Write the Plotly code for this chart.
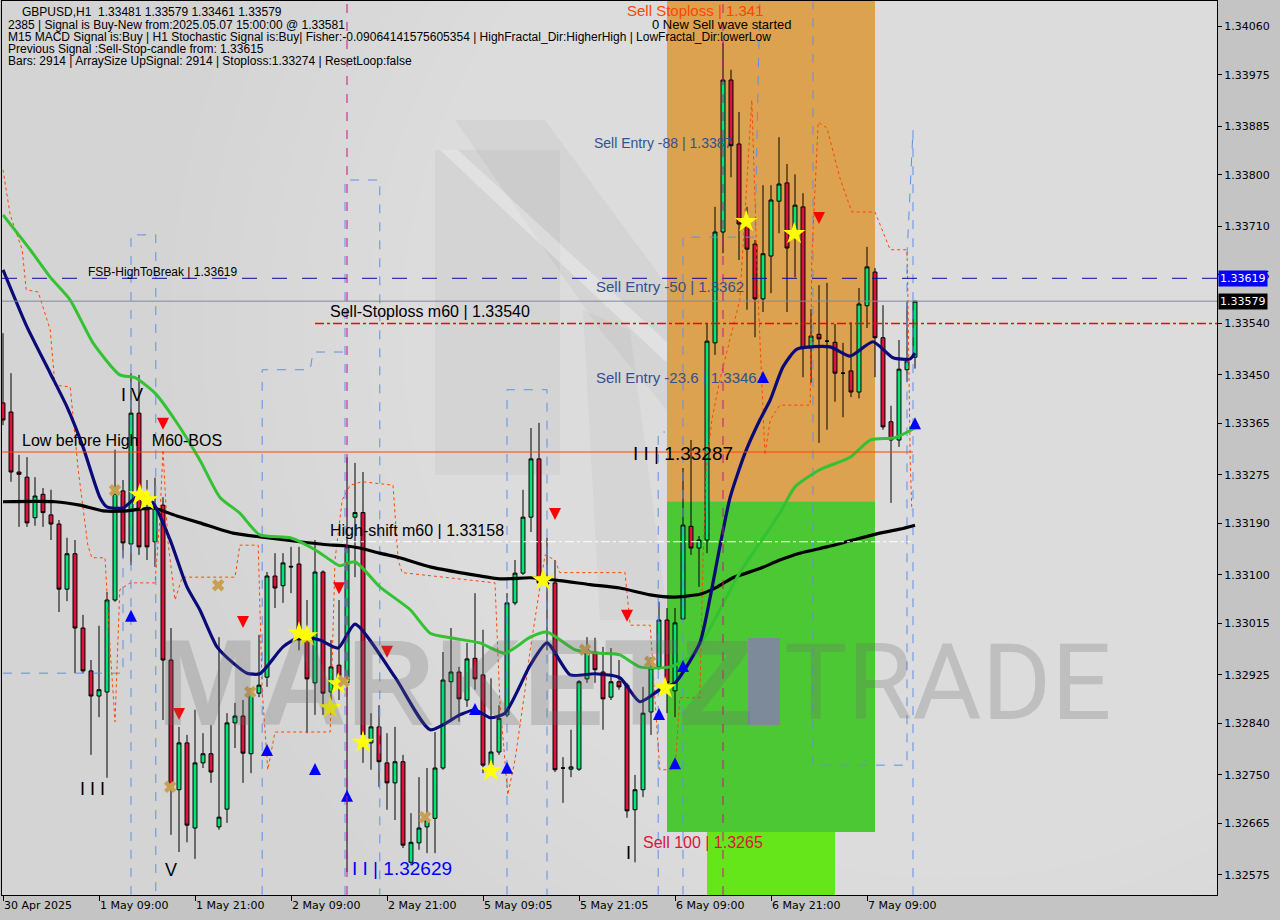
import plotly.graph_objects as go

# ---------------- data ----------------
bars = list(range(115))
opens = [1.33401,1.33385,1.33280,1.33271,1.33200,1.33241,1.33205,1.33189,1.33075,1.33137,
1.33007,1.32932,1.32888,1.32895,1.33056,1.33247,1.33154,1.33383,1.33214,1.33158,
1.33222,1.32951,1.32724,1.32806,1.32657,1.32771,1.32787,1.32659,1.32690,1.32841,
1.32853,1.32787,1.32893,1.32921,1.33098,1.33081,1.33115,1.33119,1.32986,1.32911,
1.33105,1.32895,1.32942,1.32911,1.33201,1.33209,1.32806,1.32834,1.32771,1.32736,
1.32773,1.32597,1.32631,1.32659,1.32674,1.32762,1.32913,1.32930,1.32881,1.32954,
1.32925,1.32767,1.32790,1.32855,1.33051,1.33103,1.33201,1.33303,1.33086,1.33086,
1.32762,1.32760,1.32760,1.32918,1.32965,1.32930,1.32886,1.32913,1.32907,1.32689,
1.32724,1.32860,1.32939,1.33021,1.32897,1.33023,1.33185,1.33147,1.33161,1.33506,
1.33700,1.33966,1.33854,1.33714,1.33679,1.33583,1.33658,1.33754,1.33786,1.33695,
1.33744,1.33497,1.33521,1.33509,1.33507,1.33453,1.33457,1.33420,1.33571,1.33630,
1.33515,1.33368,1.33336,1.33459,1.33481]
highs = [1.33523,1.33453,1.33310,1.33306,1.33271,1.33252,1.33249,1.33196,1.33165,1.33161,
1.33030,1.32951,1.33011,1.33070,1.33319,1.33266,1.33453,1.33450,1.33266,1.33270,
1.33236,1.33007,1.32834,1.32820,1.32864,1.32823,1.32837,1.32991,1.32858,1.32876,
1.32881,1.32902,1.32995,1.33105,1.33138,1.33138,1.33149,1.33149,1.33056,1.33161,
1.33108,1.32986,1.33056,1.33306,1.33296,1.33280,1.32858,1.32872,1.32823,1.32834,
1.32785,1.32683,1.32746,1.32762,1.32825,1.32965,1.33007,1.32939,1.32981,1.33068,
1.33004,1.32919,1.32872,1.33068,1.33126,1.33249,1.33357,1.33366,1.33165,1.33126,
1.32781,1.32829,1.32916,1.32991,1.32990,1.32974,1.32972,1.32951,1.32911,1.32750,
1.32904,1.32956,1.33053,1.33042,1.33042,1.33287,1.33336,1.33168,1.33541,1.33744,
1.34031,1.33984,1.33910,1.33744,1.33686,1.33782,1.33782,1.33866,1.33819,1.33801,
1.33768,1.33565,1.33607,1.33611,1.33539,1.33506,1.33542,1.33602,1.33674,1.33637,
1.33572,1.33396,1.33511,1.33578,1.33579]
lows = [1.33362,1.33263,1.33184,1.33184,1.33186,1.33184,1.33161,1.33035,1.33054,1.32928,
1.32928,1.32785,1.32851,1.32745,1.33053,1.33130,1.33117,1.33135,1.33126,1.33114,
1.32846,1.32645,1.32615,1.32632,1.32603,1.32762,1.32736,1.32654,1.32666,1.32797,
1.32736,1.32753,1.32886,1.32904,1.33042,1.33051,1.33068,1.32968,1.32823,1.32855,
1.32855,1.32881,1.32881,1.32580,1.33096,1.32771,1.32759,1.32729,1.32689,1.32671,
1.32622,1.32592,1.32619,1.32613,1.32613,1.32759,1.32843,1.32843,1.32869,1.32899,
1.32753,1.32764,1.32785,1.32851,1.33047,1.33100,1.33175,1.33082,1.32968,1.32755,
1.32701,1.32746,1.32757,1.32911,1.32911,1.32829,1.32881,1.32899,1.32675,1.32597,
1.32711,1.32820,1.32934,1.32858,1.32851,1.33021,1.33135,1.33079,1.33138,1.33485,
1.33663,1.33796,1.33651,1.33564,1.33516,1.33560,1.33593,1.33698,1.33560,1.33621,
1.33446,1.33436,1.33331,1.33354,1.33403,1.33376,1.33411,1.33409,1.33532,1.33446,
1.33354,1.33226,1.33324,1.33438,1.33461]
closes = [1.33371,1.33280,1.33276,1.33191,1.33238,1.33209,1.33189,1.33075,1.33137,1.33007,
1.32932,1.32888,1.32899,1.33056,1.33243,1.33156,1.33383,1.33149,1.33149,1.33217,
1.32951,1.32729,1.32806,1.32662,1.32771,1.32787,1.32755,1.32676,1.32841,1.32853,
1.32788,1.32893,1.32907,1.33098,1.33077,1.33121,1.33114,1.32986,1.32918,1.33105,
1.32893,1.32939,1.32904,1.33149,1.33209,1.32820,1.32834,1.32773,1.32736,1.32773,
1.32627,1.32632,1.32657,1.32671,1.32762,1.32916,1.32930,1.32883,1.32953,1.32918,
1.32767,1.32790,1.32849,1.33051,1.33103,1.33201,1.33303,1.33086,1.33084,1.32759,
1.32762,1.32764,1.32913,1.32969,1.32934,1.32883,1.32913,1.32904,1.32687,1.32724,
1.32858,1.32937,1.33021,1.32911,1.33016,1.33187,1.33147,1.33161,1.33509,1.33700,
1.33966,1.33851,1.33714,1.33670,1.33583,1.33662,1.33756,1.33784,1.33672,1.33747,
1.33497,1.33518,1.33513,1.33509,1.33453,1.33453,1.33420,1.33574,1.33639,1.33515,
1.33359,1.33336,1.33460,1.33474,1.33579]

x_tick_bars = [0, 12, 24, 36, 48, 60, 72, 84, 96, 108]
x_tick_labels = ["30 Apr 2025", "1 May 09:00", "1 May 21:00", "2 May 09:00", "2 May 21:00",
                 "5 May 09:05", "5 May 21:05", "6 May 09:00", "6 May 21:00", "7 May 09:00"]
y_tick_values = [1.34060, 1.33975, 1.33885, 1.33800, 1.33710, 1.33625, 1.33540, 1.33450, 1.33365,
                 1.33275, 1.33190, 1.33100, 1.33015, 1.32925, 1.32840, 1.32750, 1.32665, 1.32575]

ma_slow_bars = [0,6.5,9.6,12.5,15.5,18.75,21.75,24.6,28.75,33,37.1,41.25,42.75,44.6,47.1,49.6,53.4,57.1,
                62.1,65.9,69.6,73.4,77.1,80.9,83.75,87.1,88.75,91.25,94.6,97.1,99.6,103,106.25,109.6,112.1,114]
ma_slow_vals = [1.33228,1.33228,1.33222,1.33212,1.33212,1.33217,1.33203,1.33191,1.33173,1.33165,1.33158,
                1.33152,1.33151,1.33147,1.33138,1.33130,1.33114,1.33104,1.33093,1.33095,1.33090,1.33083,
                1.33077,1.33065,1.33061,1.33066,1.33075,1.33095,1.33111,1.33126,1.33138,1.33149,1.33161,
                1.33173,1.33180,1.33187]

ma_fast_bars = [0,3,5.9,8,10,12.1,13,15,17.1,18.75,20.9,23,24.6,26.75,28.75,30.5,32.1,35,37.1,39.6,41.9,44,
                49,53.4,57.1,59,60.9,62.75,65.9,68,70.9,74,77.1,79.6,82.1,84,87.1,88.4,89.6,90.9,92.75,94.6,
                95.9,97.5,99.25,103.4,105.9,108.75,111.25,113.4,114]
ma_fast_vals = [1.33634,1.33534,1.33453,1.33394,1.33324,1.33236,1.33219,1.33217,1.33240,1.33226,1.33161,
                1.33079,1.33039,1.32974,1.32946,1.32928,1.32927,1.32974,1.32991,1.32986,1.32972,1.33014,
                1.32921,1.32829,1.32855,1.32864,1.32850,1.32858,1.32942,1.32981,1.32925,1.32927,1.32920,
                1.32878,1.32899,1.32911,1.32981,1.33061,1.33149,1.33236,1.33313,1.33371,1.33406,1.33464,
                1.33495,1.33499,1.33483,1.33508,1.33480,1.33478,1.33488]

ma_mid_bars = [0,3.4,5.9,8.4,11.25,14.6,16.5,19,21.5,24.6,27.1,29.6,32.1,35.9,39,40.9,42.1,44,47.1,50.9,
               53.4,55.9,59.6,62.75,65.9,68,71.5,74.6,77.1,79.6,83.4,85.9,87.75,89.6,92.1,94.6,97.1,99,
               102.1,105.9,108.4,111.5,114]
ma_mid_vals = [1.33730,1.33669,1.33621,1.33581,1.33506,1.33450,1.33445,1.33418,1.33371,1.33301,1.33236,
               1.33208,1.33170,1.33165,1.33144,1.33126,1.33116,1.33123,1.33079,1.33039,1.32998,1.32990,
               1.32981,1.32963,1.32991,1.33000,1.32969,1.32963,1.32960,1.32939,1.32939,1.32956,1.32991,
               1.33039,1.33104,1.33156,1.33208,1.33254,1.33284,1.33306,1.33336,1.33340,1.33357]

env_bars = [0,0.9,2.4,2.9,4.4,5.9,6.5,8.4,9.4,10.6,11.1,12.75,13.4,14,14.6,15.9,19,19.6,20,20.6,21.5,22.4,
            29,29.6,31.9,32.4,33.1,34,40.9,41.5,42.4,43.4,44.9,48.75,49.4,49.9,61.5,62.1,63.1,64,65.25,
            65.9,67.75,69,69.6,77.75,78.4,80.9,81.5,82.1,84,84.6,87.1,87.5,87.9,88.6,89.6,92.1,93.6,94.4,
            95.25,95.9,97.1,100.9,101.1,101.9,103,104.6,106.1,109,110.9,113,113.1,113.4,113.6]
env_vals = [1.33809,1.33730,1.33669,1.33599,1.33595,1.33529,1.33432,1.33429,1.33284,1.33152,1.33130,1.33130,
            1.32969,1.32843,1.33074,1.33086,1.33086,1.33196,1.33319,1.33161,1.33056,1.33096,1.33096,1.33152,
            1.33152,1.32898,1.32759,1.32825,1.32825,1.33126,1.33231,1.33257,1.33263,1.33257,1.33126,1.33104,
            1.33086,1.32881,1.32715,1.32776,1.32898,1.32969,1.33135,1.33126,1.33104,1.33104,1.33012,1.33012,
            1.32881,1.32759,1.32759,1.32885,1.32885,1.33126,1.33284,1.33371,1.33441,1.33581,1.33931,1.33581,
            1.33310,1.33371,1.33397,1.33397,1.33655,1.33892,1.33882,1.33795,1.33735,1.33735,1.33669,1.33669,
            1.33599,1.33301,1.33213]

blue_a_bars, blue_a_vals = [0, 15, 15], [1.32928, 1.32928, 1.33161]
blue_b_bars, blue_b_vals = [16, 16, 19.1, 19.1], [1.32540, 1.33695, 1.33695, 1.32540]
blue_c_bars, blue_c_vals = [32.4, 32.4, 38.4, 38.75, 42.75], [1.32540, 1.33459, 1.33459, 1.33490, 1.33490]
blue_d_bars, blue_d_vals = [42.75, 42.75, 47.1, 47.1], [1.32540, 1.33791, 1.33791, 1.32540]
blue_e_bars, blue_e_vals = [63, 63, 68, 68], [1.32540, 1.33424, 1.33424, 1.32540]
blue_f_bars, blue_f_vals = [81.9, 81.9, 82.75], [1.32540, 1.33350, 1.33350]
blue_g_bars, blue_g_vals = [85, 85, 94, 94.6], [1.32540, 1.33691, 1.33691, 1.34106]
blue_h_bars, blue_h_vals = [101.25, 101.25, 113, 113, 113.75, 113.75], [1.34106, 1.32767, 1.32767, 1.33660, 1.33878, 1.32540]

down_arrow_bars = [20, 30, 42, 48, 22, 69, 78, 102]
down_arrow_vals = [1.33354, 1.33007, 1.33066, 1.32955, 1.32846, 1.33196, 1.33018, 1.33714]
up_arrow_bars = [16, 33, 39, 43, 59, 63, 82, 85, 84, 95, 114]
up_arrow_vals = [1.33039, 1.32804, 1.32771, 1.32724, 1.32876, 1.32773, 1.32867, 1.32951, 1.32781, 1.33457, 1.33376]
star_bars = [17.1, 18, 37, 38, 41.9, 40.9, 45, 61, 67.5, 82.75, 92.9, 98.9]
star_vals = [1.33240, 1.33231, 1.32998, 1.32993, 1.32909, 1.32867, 1.32807, 1.32757, 1.33091, 1.32902, 1.33718, 1.33697]
cross_bars = [14, 26.9, 20.9, 30.9, 42.6, 52.75, 72.75, 80.9]
cross_vals = [1.33248, 1.33082, 1.32729, 1.32895, 1.32914, 1.32676, 1.32969, 1.32948]

fsb_level = 1.33619
last_price = 1.33579
sl_m60_level = 1.33540
low_before_high_level = 1.33315
high_shift_level = 1.33158
zone_start_bar, zone_end_bar = 83, 109
zone_split = 1.33229
zone_green_low = 1.32650
zone_bright_start, zone_bright_end = 88, 104

# ---------------- geometry helpers ----------------
Y_TOP, Y_BOT = 1.341043, 1.325398
X_LEFT, X_RIGHT = -0.125, 151.75
def px(x):  # pixel -> paper x
    return (x - 2) / 1215.0
def py(y):  # pixel -> paper y
    return 1 - (y - 1) / 894.0
def bx(x):  # pixel -> bar coordinate
    return (x - 3) / 8.0
def vy(y):  # pixel -> price coordinate
    return 1.34106 - 0.0000175 * y

fig = go.Figure()

shapes = []
# soft radial light in the background
cx, cy = 950, 330
for k in range(22):
    r = 780 - k * 33
    shapes.append(dict(type="circle", xref="x", yref="y", x0=bx(cx - r), x1=bx(cx + r),
                       y0=vy(cy + r), y1=vy(cy - r), fillcolor="rgba(255,255,255,0.026)",
                       line_width=0, layer="below"))
# faint logo
def poly(pts):
    return "M " + " L ".join(f"{bx(a)},{vy(b)}" for a, b in pts) + " Z"
shapes.append(dict(type="path", xref="x", yref="y", path=poly([(435,150),(560,150),(560,475),(435,475)]),
                   fillcolor="rgba(0,0,0,0.035)", line_width=0, layer="below"))
shapes.append(dict(type="path", xref="x", yref="y", path=poly([(455,120),(545,120),(700,330),(700,450),(600,330)]),
                   fillcolor="rgba(0,0,0,0.035)", line_width=0, layer="below"))
shapes.append(dict(type="path", xref="x", yref="y", path=poly([(440,150),(458,150),(670,345),(666,362)]),
                   fillcolor="rgba(255,255,255,0.3)", line_width=0, layer="below"))
shapes.append(dict(type="path", xref="x", yref="y", path=poly([(583,310),(630,330),(668,620),(600,620)]),
                   fillcolor="rgba(0,0,0,0.03)", line_width=0, layer="below"))
# sell zone
shapes.append(dict(type="rect", xref="x", yref="y", x0=zone_start_bar, x1=zone_end_bar, y0=zone_split, y1=Y_TOP + 0.001,
                   fillcolor="#DCA24F", line_width=0, layer="below"))
shapes.append(dict(type="rect", xref="x", yref="y", x0=zone_start_bar, x1=zone_end_bar, y0=zone_green_low, y1=zone_split,
                   fillcolor="#4CC834", line_width=0, layer="below"))
shapes.append(dict(type="rect", xref="x", yref="y", x0=zone_bright_start, x1=zone_bright_end, y0=Y_BOT - 0.001, y1=zone_green_low,
                   fillcolor="#64E61A", line_width=0, layer="below"))
# watermark "I" block
shapes.append(dict(type="rect", xref="x", yref="y", x0=bx(748), x1=bx(780), y0=vy(725), y1=vy(638),
                   fillcolor="#7D8A99", line_width=0, layer="below"))
# horizontal levels
shapes.append(dict(type="line", xref="paper", yref="y", x0=0, x1=1, y0=fsb_level, y1=fsb_level,
                   line=dict(color="#0A0AA0", width=1, dash="longdash")))
shapes.append(dict(type="line", xref="paper", yref="y", x0=0, x1=1, y0=last_price, y1=last_price,
                   line=dict(color="#7F8A99", width=1)))
shapes.append(dict(type="line", xref="x", yref="y", x0=39, x1=X_RIGHT, y0=sl_m60_level, y1=sl_m60_level,
                   line=dict(color="#FF0000", width=1.5, dash="dashdot")))
shapes.append(dict(type="line", xref="x", yref="y", x0=X_LEFT, x1=113.75, y0=low_before_high_level, y1=low_before_high_level,
                   line=dict(color="#FF4500", width=1)))
shapes.append(dict(type="line", xref="x", yref="y", x0=41, x1=113.5, y0=high_shift_level, y1=high_shift_level,
                   line=dict(color="#FFFFFF", width=1, dash="dashdot")))
# magenta separators
for xb in (43, 90):
    shapes.append(dict(type="line", xref="x", yref="paper", x0=xb, x1=xb, y0=0, y1=1,
                       line=dict(color="#C71585", width=1, dash="dash")))

# ---------------- traces ----------------
for bxs, vys in [(blue_a_bars, blue_a_vals), (blue_b_bars, blue_b_vals), (blue_c_bars, blue_c_vals),
                 (blue_d_bars, blue_d_vals), (blue_e_bars, blue_e_vals), (blue_f_bars, blue_f_vals),
                 (blue_g_bars, blue_g_vals), (blue_h_bars, blue_h_vals)]:
    fig.add_trace(go.Scatter(x=bxs, y=vys, mode="lines", line=dict(color="#5F8FEA", width=1, dash="dash"),
                             hoverinfo="skip", showlegend=False))
fig.add_trace(go.Scatter(x=env_bars, y=env_vals, mode="lines", line=dict(color="#FF4500", width=1, dash="dot"),
                         hoverinfo="skip", showlegend=False))

fig.add_trace(go.Candlestick(x=bars, open=opens, high=highs, low=lows, close=closes,
                             increasing=dict(line=dict(color="black", width=1), fillcolor="#00E676"),
                             decreasing=dict(line=dict(color="black", width=1), fillcolor="#DC143C"),
                             whiskerwidth=0, hoverinfo="skip", showlegend=False))

fig.add_trace(go.Scatter(x=ma_slow_bars, y=ma_slow_vals, mode="lines", line=dict(color="#000000", width=3.2, shape="spline", smoothing=0.6),
                         hoverinfo="skip", showlegend=False))
fig.add_trace(go.Scatter(x=ma_mid_bars, y=ma_mid_vals, mode="lines", line=dict(color="#33C233", width=3, shape="spline", smoothing=0.6),
                         hoverinfo="skip", showlegend=False))
fig.add_trace(go.Scatter(x=ma_fast_bars, y=ma_fast_vals, mode="lines", line=dict(color="#0A0A78", width=3.2, shape="spline", smoothing=0.6),
                         hoverinfo="skip", showlegend=False))

fig.add_trace(go.Scatter(x=down_arrow_bars, y=down_arrow_vals, mode="markers",
                         marker=dict(symbol="arrow-down", size=12, color="#FF0000", line=dict(width=0)),
                         hoverinfo="skip", showlegend=False))
fig.add_trace(go.Scatter(x=up_arrow_bars, y=up_arrow_vals, mode="markers",
                         marker=dict(symbol="arrow-up", size=12, color="#0000FF", line=dict(width=0)),
                         hoverinfo="skip", showlegend=False))
fig.add_trace(go.Scatter(x=star_bars, y=star_vals, mode="markers",
                         marker=dict(symbol="star", size=17, color="#FFFF00", line=dict(width=0)),
                         hoverinfo="skip", showlegend=False))
fig.add_trace(go.Scatter(x=cross_bars, y=cross_vals, mode="markers",
                         marker=dict(symbol="x", size=11, color="#C8A050", line=dict(width=0)),
                         hoverinfo="skip", showlegend=False))

# ---------------- annotations ----------------
def note(text, x, y, size, color, family="Liberation Sans", xanchor="left", yanchor="middle", weight="normal"):
    return dict(text=text, x=px(x), y=py(y), xref="paper", yref="paper", showarrow=False,
                xanchor=xanchor, yanchor=yanchor, font=dict(family=family, size=size, color=color, weight=weight))

ann = []
# watermark
ann.append(note("MARKETZ", 455, 683, 122, "rgba(110,110,110,0.26)", xanchor="center", weight="bold"))
ann.append(note("TRADE", 948, 683, 106, "rgba(110,110,110,0.26)", family="Roboto", xanchor="center"))

hdr = ["GBPUSD,H1\u00a0\u00a01.33481 1.33579 1.33461 1.33579",
       "2385 | Signal is Buy-New from:2025.05.07 15:00:00 @ 1.33581",
       "M15 MACD Signal is:Buy | H1 Stochastic Signal is:Buy| Fisher:-0.09064141575605354 | HighFractal_Dir:HigherHigh | LowFractal_Dir:lowerLow",
       "Previous Signal :Sell-Stop-candle from: 1.33615",
       "Bars: 2914 | ArraySize UpSignal: 2914 | Stoploss:1.33274 | ResetLoop:false"]
hdr_x = [20, 6, 6, 6, 6]
hdr_y = [12, 25, 37, 49, 61]
for t, hx, hy in zip(hdr, hdr_x, hdr_y):
    ann.append(note(t, hx, hy, 12, "#000000"))

ann.append(note("FSB-HighToBreak | 1.33619", 86, 272, 12, "#000000"))
ann.append(note("Sell-Stoploss m60 | 1.33540", 328, 312, 16, "#000000"))
ann.append(note("Low before High\u00a0\u00a0\u00a0M60-BOS", 20, 440, 16, "#000000"))
ann.append(note("High-shift m60 | 1.33158", 328, 530, 16, "#000000"))
ann.append(note("I I | 1.33287", 631, 453, 19, "#000000"))
ann.append(note("I V", 119, 395, 18, "#000000"))
ann.append(note("I I I", 78, 789, 18, "#000000"))
ann.append(note("V", 163, 870, 18, "#000000"))
ann.append(note("I", 624, 853, 18, "#000000"))
ann.append(note("I I | 1.32629", 350, 868, 19, "#0000FF"))
ann.append(note("Sell 100 | 1.3265", 641, 842, 16, "#DC143C"))
ann.append(note("Sell Entry -23.6 | 1.3346", 594, 378, 15, "#33508F"))
ann.append(note("Sell Entry -50 | 1.3362", 594, 287, 15, "#33508F"))
ann.append(note("Sell Entry -88 | 1.3387", 592, 143, 14, "#33508F"))
ann.append(note("Sell Stoploss | 1.341", 625, 11, 15, "#FF4500"))
ann.append(note("0 New Sell wave started", 650, 25, 13, "#000000"))

# price tags on the axis
for val, bg in [(fsb_level, "#0000FF"), (last_price, "#000000")]:
    ann.append(dict(text=f"{val:.5f}", x=1, y=val, xref="paper", yref="y", showarrow=False,
                    xanchor="left", yanchor="middle", xshift=1, bgcolor=bg, borderpad=1,
                    font=dict(family="DejaVu Sans", size=11, color="#FFFFFF")))

fig.update_layout(
    width=1280, height=920,
    margin=dict(l=2, r=63, t=1, b=25),
    paper_bgcolor="#C4C4C4", plot_bgcolor="#D4D4D4",
    showlegend=False, shapes=shapes, annotations=ann,
    xaxis=dict(range=[X_LEFT, X_RIGHT], tickvals=x_tick_bars, ticktext=x_tick_labels,
               ticks="outside", ticklen=5, tickcolor="#000000", ticklabelposition="outside right",
               showgrid=False, zeroline=False, showline=True, mirror=True, linecolor="#000000", linewidth=1,
               rangeslider=dict(visible=False), tickfont=dict(family="DejaVu Sans", size=11, color="#000000")),
    yaxis=dict(range=[Y_BOT, Y_TOP], side="right", tickvals=y_tick_values,
               ticktext=[f"{v:.5f}" for v in y_tick_values], ticks="outside", ticklen=4, tickcolor="#000000",
               showgrid=False, zeroline=False, showline=True, mirror=True, linecolor="#000000", linewidth=1,
               tickfont=dict(family="DejaVu Sans", size=11, color="#000000")),
)

fig.write_html("out.html", config={"displayModeBar": False},
               post_script="document.body.style.margin='0px';document.body.style.overflow='hidden';")
